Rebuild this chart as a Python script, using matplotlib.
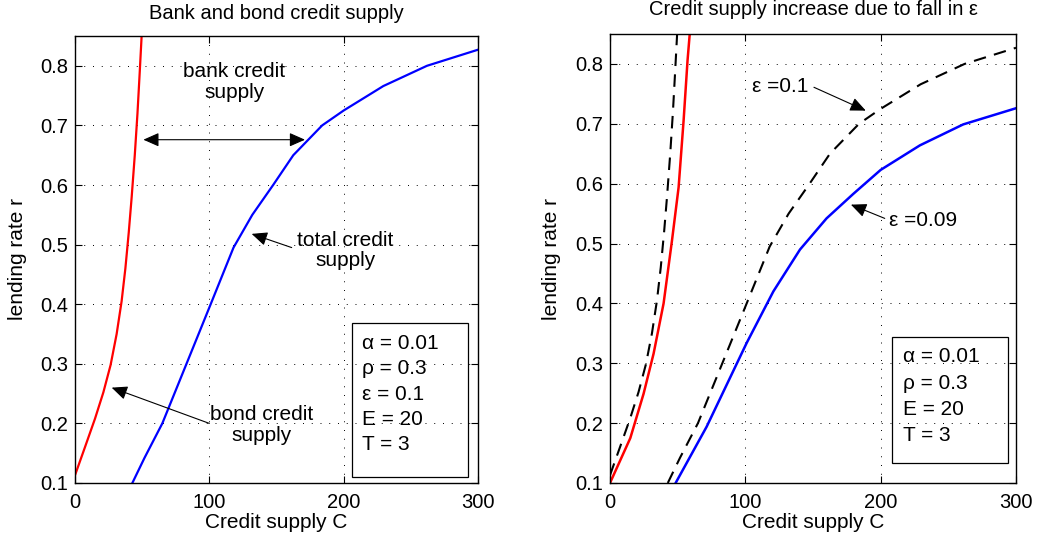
import numpy as np
import matplotlib
matplotlib.use("Agg")
import matplotlib.pyplot as plt
from matplotlib.patches import Rectangle

plt.rcParams['font.family'] = ['Liberation Sans', 'DejaVu Sans']
plt.rcParams['font.size'] = 15

# bond credit supply, eps = 0.1
bond_c_01 = [0, 7.4, 14.9, 21.1, 26.5, 31.0, 34.7, 37.5, 40.0, 42.2, 44.5, 46.5, 48.2, 49.6, 50.3]
bond_r_01 = [0.113, 0.160, 0.208, 0.252, 0.298, 0.350, 0.405, 0.460, 0.520, 0.580, 0.650, 0.720, 0.790, 0.850, 0.875]

# total credit supply, eps = 0.1
total_c_01 = [42.7, 51.7, 65, 83, 101, 118, 132, 147.5, 162.5, 184, 200, 218, 229.5, 262, 300]
total_r_01 = [0.100, 0.142, 0.200, 0.300, 0.400, 0.495, 0.550, 0.600, 0.650, 0.700, 0.725, 0.750, 0.766, 0.800, 0.827]

# bond credit supply, eps = 0.09
bond_c_009 = [0, 15, 24.8, 32.2, 39.6, 45.8, 50.7, 54.4, 57.3, 58.8, 59.4]
bond_r_009 = [0.100, 0.175, 0.249, 0.316, 0.400, 0.505, 0.594, 0.706, 0.806, 0.847, 0.865]

# total credit supply, eps = 0.09
total_c_009 = [48.5, 71.4, 86.2, 101, 120.7, 140.4, 160, 179.8, 200, 229, 261, 300]
total_r_009 = [0.100, 0.194, 0.264, 0.334, 0.420, 0.490, 0.542, 0.583, 0.623, 0.664, 0.699, 0.726]

params_left = ['α = 0.01', 'ρ = 0.3', 'ε = 0.1', 'E = 20', 'T = 3']
params_right = ['α = 0.01', 'ρ = 0.3', 'E = 20', 'T = 3']

fig = plt.figure(figsize=(10.38, 5.43), dpi=100)
ax1 = fig.add_axes([75/1038, 60/543, 403/1038, 447/543])
ax2 = fig.add_axes([610/1038, 60/543, 406/1038, 449/543])

arrow_kw = dict(arrowstyle='-|>,head_length=0.95,head_width=0.42', color='k',
                lw=0.8, mutation_scale=10, shrinkA=0, shrinkB=0)


def style(ax, title, tpad):
    ax.set_xlim(0, 300)
    ax.set_ylim(0.1, 0.85)
    ax.set_xticks([0, 100, 200, 300])
    ax.set_yticks([0.1, 0.2, 0.3, 0.4, 0.5, 0.6, 0.7, 0.8])
    ax.set_yticklabels(['0.1', '0.2', '0.3', '0.4', '0.5', '0.6', '0.7', '0.8'])
    ax.tick_params(direction='in', top=True, right=True, length=5, width=0.8,
                   labelsize=14.5, pad=5)
    ax.tick_params(axis='x', pad=7)
    ax.grid(True, linestyle=(0, (1, 8)), color='k', linewidth=0.7)
    for s in ax.spines.values():
        s.set_linewidth(1.0)
    ax.set_xlabel('Credit supply C', labelpad=1)
    ax.set_ylabel('lending rate r')
    ax.yaxis.set_label_coords(-0.12, 0.5)
    ax.set_title(title, fontsize=14.5, pad=tpad)


# left panel
ax1.plot(bond_c_01, bond_r_01, color='red', lw=1.6, solid_joinstyle='round')
ax1.plot(total_c_01, total_r_01, color='blue', lw=1.6, solid_joinstyle='round')
style(ax1, 'Bank and bond credit supply', 12)

ax1.text(118.6, 0.773, 'bank credit\nsupply', ha='center', va='center', linespacing=1.1)
ax1.annotate('', xy=(171.2, 0.676), xytext=(50.9, 0.676),
             arrowprops=dict(arrow_kw, arrowstyle='<|-|>,head_length=0.95,head_width=0.42'))
ax1.text(201.5, 0.49, 'total credit\nsupply', ha='center', va='center', linespacing=1.1)
ax1.annotate('', xy=(131.5, 0.518), xytext=(161.3, 0.495), arrowprops=arrow_kw)
ax1.text(139, 0.197, 'bond credit\nsupply', ha='center', va='center', linespacing=1.1)
ax1.annotate('', xy=(27.3, 0.26), xytext=(100, 0.2), arrowprops=arrow_kw)

ax1.add_patch(Rectangle((206.4, 0.110), 292.8 - 206.4, 0.369 - 0.110,
                        fill=False, ec='k', lw=0.9, zorder=3))
for i, s in enumerate(params_left):
    ax1.text(214, 0.334 - i * 0.0425, s, ha='left', va='center')

# right panel
ax2.plot(bond_c_01, bond_r_01, color='k', lw=1.5, dashes=(6, 4))
ax2.plot(total_c_01, total_r_01, color='k', lw=1.5, dashes=(6, 4))
ax2.plot(bond_c_009, bond_r_009, color='red', lw=1.8, solid_joinstyle='round')
ax2.plot(total_c_009, total_r_009, color='blue', lw=1.8, solid_joinstyle='round')
style(ax2, 'Credit supply increase due to fall in ε', 14)

ax2.text(105, 0.762, 'ε =0.1', ha='left', va='center')
ax2.annotate('', xy=(189, 0.722), xytext=(150.7, 0.761), arrowprops=arrow_kw)
ax2.text(206.4, 0.538, 'ε =0.09', ha='left', va='center')
ax2.annotate('', xy=(178, 0.565), xytext=(203, 0.542), arrowprops=arrow_kw)

ax2.add_patch(Rectangle((208.7, 0.133), 294.3 - 208.7, 0.344 - 0.133,
                        fill=False, ec='k', lw=0.9, zorder=3))
for i, s in enumerate(params_right):
    ax2.text(216.8, 0.311 - i * 0.044, s, ha='left', va='center')

fig.savefig('out.png', dpi=100)
